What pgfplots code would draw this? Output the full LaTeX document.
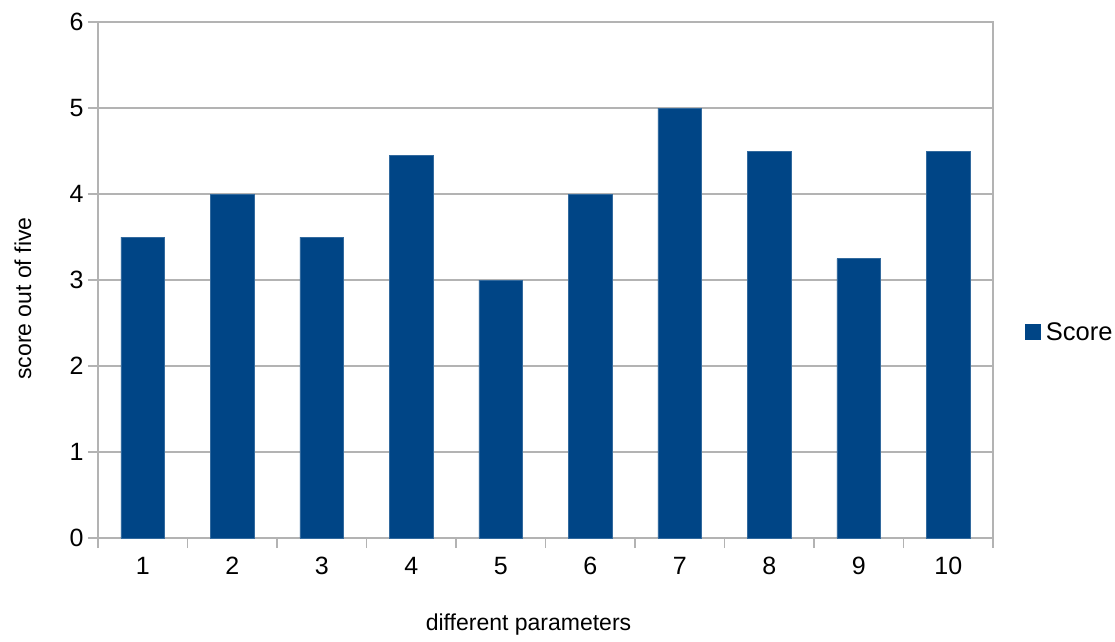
\documentclass[border=0pt]{standalone}
\usepackage{pgfplots}
\pgfplotsset{compat=1.18}
\usepackage{fontspec}
\setmainfont{Liberation Sans}
\definecolor{barblue}{HTML}{004586}
\definecolor{gridgray}{HTML}{B3B3B3}
\begin{document}
\begin{tikzpicture}[x=1pt,y=1pt]
\path[use as bounding box] (-98,-103) rectangle (1017,538);
\begin{axis}[
  at={(0,0)}, anchor=south west,
  scale only axis, width=895pt, height=516pt,
  xmin=0.5, xmax=10.5, ymin=0, ymax=6,
  xtick={0.5,1.5,...,10.5},
  xticklabels={1,2,3,4,5,6,7,8,9,10,{}},
  ytick={0,1,...,6},
  tick pos=left,
  tick align=outside,
  major tick length=10pt,
  every tick/.style={gridgray, line width=1.2pt},
  axis line style={gridgray, line width=1.2pt},
  ymajorgrids,
  major grid style={gridgray, line width=1.2pt},
  /pgf/number format/assume math mode=true,
  ticklabel style={font=\fontsize{25}{28}\selectfont, text=black},
  xticklabel style={xshift=44.75pt, yshift=-6pt},
  yticklabel style={xshift=-1pt},
  xlabel={different parameters},
  ylabel={score out of five},
  label style={font=\fontsize{23}{27}\selectfont},
  xlabel style={at={(rel axis cs:0.481,-0.167)}, anchor=center},
  ylabel style={at={(rel axis cs:-0.084,0.464)}, anchor=center},
  legend style={at={(rel axis cs:1.036,0.399)}, anchor=west, draw=none, fill=none,
    font=\fontsize{25.5}{28}\selectfont, inner sep=0pt},
  legend image code/.code={\fill[barblue] (0pt,-7.5pt) rectangle (15pt,7.5pt); \path (18pt,0pt);},
]
\addplot[ybar, bar width=0.49, fill=barblue, draw=barblue!80!white, line width=0.5pt]
  coordinates {(1,3.5) (2,4) (3,3.5) (4,4.45) (5,3.0) (6,4) (7,5) (8,4.5) (9,3.25) (10,4.5)};
\addlegendentry{Score}
\end{axis}
\end{tikzpicture}
\end{document}
